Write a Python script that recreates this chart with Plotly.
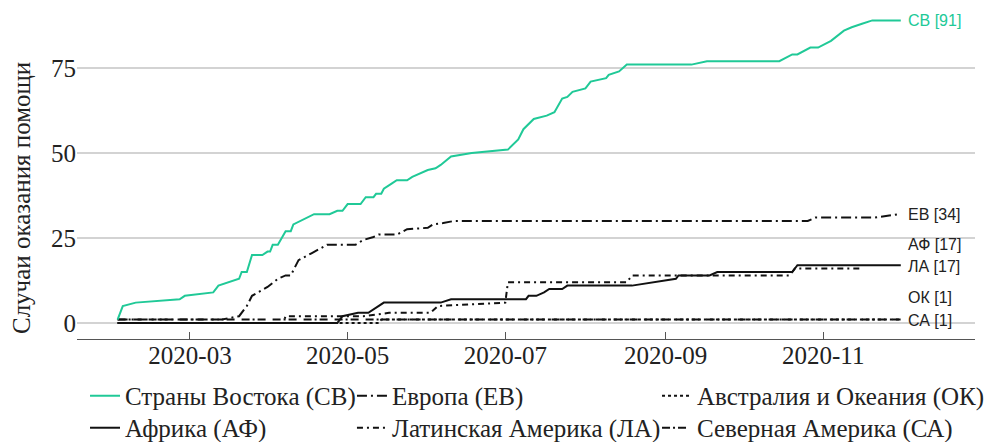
import plotly.graph_objects as go

# ---------------- data ----------------
sv_dates = ["2020-02-02","2020-02-04","2020-02-09","2020-02-26","2020-02-28","2020-03-10","2020-03-12",
            "2020-03-20","2020-03-21","2020-03-23","2020-03-25","2020-03-29","2020-03-31","2020-04-01",
            "2020-04-02","2020-04-04","2020-04-07","2020-04-09","2020-04-10","2020-04-15","2020-04-18",
            "2020-04-24","2020-04-27","2020-04-29","2020-05-01","2020-05-06","2020-05-08","2020-05-11",
            "2020-05-12","2020-05-14","2020-05-15","2020-05-18","2020-05-20","2020-05-24","2020-05-26",
            "2020-06-01","2020-06-04","2020-06-06","2020-06-10","2020-06-18","2020-07-02","2020-07-06",
            "2020-07-08","2020-07-12","2020-07-17","2020-07-20","2020-07-23","2020-07-25","2020-07-27",
            "2020-08-01","2020-08-03","2020-08-09","2020-08-10","2020-08-14","2020-08-17","2020-09-11",
            "2020-09-17","2020-10-15","2020-10-20","2020-10-22","2020-10-27","2020-10-30","2020-11-04",
            "2020-11-09","2020-11-12","2020-11-16","2020-11-20","2020-12-01"]
sv_values = [1, 5, 6, 7, 8, 9, 11, 13, 15, 15, 20, 20, 21, 21, 23, 23, 27, 27, 29, 31, 32, 32, 33, 33,
             35, 35, 37, 37, 38, 38, 39.5, 41, 42, 42, 43, 45, 45.5, 46.5, 49, 50, 51, 54, 57, 60, 61,
             62, 66, 66.5, 68, 69, 71, 72, 73, 74, 76, 76, 77, 77, 79, 79, 81, 81, 83, 86, 87, 88, 89, 89]

ev_dates = ["2020-02-02","2020-03-13","2020-03-20","2020-03-23","2020-03-25","2020-03-31","2020-04-04",
            "2020-04-07","2020-04-09","2020-04-12","2020-04-17","2020-04-23","2020-05-04","2020-05-07",
            "2020-05-11","2020-05-13","2020-05-20","2020-05-24","2020-06-01","2020-06-03","2020-06-07",
            "2020-06-11","2020-10-26","2020-10-29","2020-11-21","2020-11-30"]
ev_values = [1, 1, 2, 5, 8, 10.6, 13, 14, 14, 18.5, 20.5, 23, 23, 24.4, 25.3, 26, 26, 27.6, 28, 29, 29.4,
             30, 30, 31, 31, 32]

af_dates = ["2020-02-02","2020-04-27","2020-04-29","2020-05-05","2020-05-09","2020-05-12","2020-05-15",
            "2020-06-06","2020-06-10","2020-07-09","2020-07-10","2020-07-13","2020-07-16","2020-07-18",
            "2020-07-23","2020-07-25","2020-08-19","2020-09-05","2020-09-06","2020-09-18","2020-09-21",
            "2020-10-20","2020-10-22","2020-12-01"]
af_values = [0, 0, 2, 3, 3, 4.4, 6, 6, 7, 7, 8, 8, 9, 10, 10, 11, 11, 13, 14, 14, 15, 15, 17, 17]

la_dates = ["2020-02-02","2020-04-06","2020-04-07","2020-04-27","2020-05-07","2020-05-17","2020-06-02",
            "2020-06-05","2020-06-29","2020-07-01","2020-07-02","2020-08-17","2020-08-19","2020-10-19",
            "2020-10-21","2020-11-16"]
la_values = [0, 0, 2, 2, 2, 3, 3, 5, 6, 6, 12, 12, 14, 14, 16, 16]

ok_dates = ["2020-02-02","2020-05-13","2020-05-14","2020-12-01"]
ok_values = [0, 0, 1, 1]

sa_dates = ["2020-02-02","2020-12-01"]
sa_values = [1, 1]

names = ["Страны Востока (СВ)", "Европа (ЕВ)", "Австралия и Океания (ОК)",
         "Африка (АФ)", "Латинская Америка (ЛА)", "Северная Америка (СА)"]

end_labels = ["СВ [91]", "ЕВ [34]", "АФ [17]", "ЛА [17]", "ОК [1]", "СА [1]"]
end_label_y = [89, 31.8, 23.2, 16.5, 7.4, 0.6]

x_tickvals = ["2020-03-01", "2020-05-01", "2020-07-01", "2020-09-01", "2020-11-01"]
x_ticktext = ["2020-03", "2020-05", "2020-07", "2020-09", "2020-11"]
y_tickvals = [0, 25, 50, 75]

# ---------------- figure ----------------
GREEN = "#20c997"
BLACK = "#111111"
SERIF = "Liberation Serif, Times New Roman, serif"

fig = go.Figure()

traces = [
    # (x, y, name, color, dash, legend id)
    (ok_dates, ok_values, names[2], BLACK, "dot", "legend3"),
    (sa_dates, sa_values, names[5], BLACK, "8px,3px,2px,3px,8px,7px", "legend6"),
    (la_dates, la_values, names[4], BLACK, "6px,4px,2px,4px", "legend5"),
    (af_dates, af_values, names[3], BLACK, "solid", "legend4"),
    (ev_dates, ev_values, names[1], BLACK, "10px,4px,2px,4px", "legend2"),
    (sv_dates, sv_values, names[0], GREEN, "solid", "legend"),
]
for x, y, nm, col, dash, lg in traces:
    fig.add_trace(go.Scatter(
        x=x, y=y, name=nm, mode="lines",
        line=dict(color=col, width=2, dash=dash),
        legend=lg,
    ))

for txt, yy in zip(end_labels, end_label_y):
    fig.add_annotation(
        x="2020-12-03", y=yy, xref="x", yref="y", text=txt, showarrow=False,
        xanchor="left", yanchor="middle",
        font=dict(family="Liberation Sans, Arial, sans-serif", size=16,
                  color=GREEN if txt.startswith("СВ") else "#222222"),
    )

fig.add_annotation(
    x=-0.0612, y=0.426, xref="paper", yref="paper", text="Случаи оказания помощи",
    textangle=-90, showarrow=False, xanchor="center", yanchor="middle",
    font=dict(family=SERIF, size=25, color="#222222"),
)

legend_common = dict(
    orientation="h", xanchor="left", yanchor="top", xref="container", yref="container",
    font=dict(family=SERIF, size=25, color="#222222"),
    bgcolor="rgba(0,0,0,0)",
)
col_x = [0.0782, 0.3492, 0.6589]
row_y = [0.159, 0.0853]

fig.update_layout(
    width=985, height=434,
    margin=dict(l=69, r=18, t=0, b=103, autoexpand=False),
    paper_bgcolor="white", plot_bgcolor="white",
    showlegend=True,
    legend=dict(x=col_x[0], y=row_y[0], **legend_common),
    legend2=dict(x=col_x[1], y=row_y[0], **legend_common),
    legend3=dict(x=col_x[2], y=row_y[0], **legend_common),
    legend4=dict(x=col_x[0], y=row_y[1], **legend_common),
    legend5=dict(x=col_x[1], y=row_y[1], **legend_common),
    legend6=dict(x=col_x[2], y=row_y[1], **legend_common),
    xaxis=dict(
        type="date", automargin=False,
        range=["2020-01-17 07:00", "2020-12-29 17:00"],
        tickvals=x_tickvals, ticktext=x_ticktext,
        showgrid=False, zeroline=False,
        showline=True, linecolor="#555555", linewidth=1,
        ticks="inside", ticklen=7, tickcolor="#555555", tickwidth=1,
        tickfont=dict(family=SERIF, size=25, color="#222222"),
        ticklabelstandoff=-6,
    ),
    yaxis=dict(
        range=[-4.7, 92.65], automargin=False,
        tickvals=y_tickvals,
        showgrid=True, gridcolor="#d3d3d3", gridwidth=1.5,
        zeroline=False, showline=False, ticks="",
        tickfont=dict(family=SERIF, size=25, color="#222222"),
    ),
)

fig.write_html("out.html")
